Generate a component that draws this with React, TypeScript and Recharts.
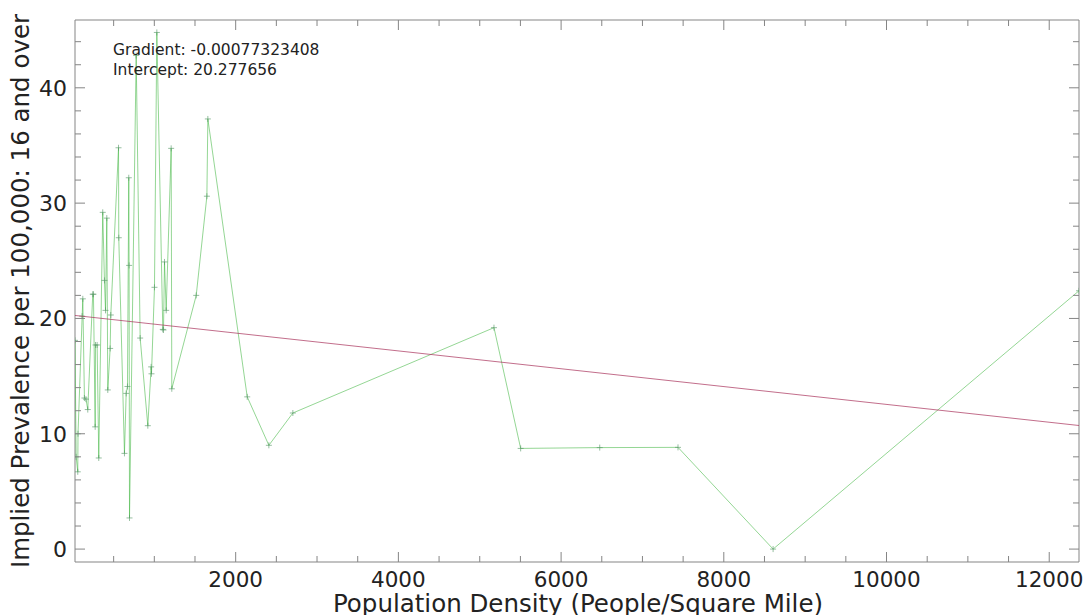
import React from 'react';
import { ScatterChart, Scatter, XAxis, YAxis, ReferenceArea } from 'recharts';

// population density (people / sq mile), sorted
const DENSITY = [
    25, 39, 59, 62, 113, 121, 141, 160, 182, 243, 252, 273, 277, 297, 317, 366, 387, 400, 416, 428,
    457, 465, 560, 563, 633, 654, 670, 686, 690, 695, 777, 826, 920, 961, 965, 1002, 1031, 1104,
    1113, 1125, 1146, 1207, 1215, 1515, 1646, 1658, 2142, 2408, 2703, 5175, 5503, 6475, 7437, 8606,
    12366,
];
// implied prevalence per 100,000
const PREVALENCE = [
    18.1, 8.0, 6.7, 10.0, 20.2, 21.7, 13.1, 13.0, 12.1, 22.1, 22.1, 10.6, 17.7, 17.7, 7.9, 29.2,
    23.3, 20.7, 28.7, 13.8, 17.4, 20.3, 34.8, 27.0, 8.3, 13.5, 14.1, 32.2, 24.6, 2.7, 42.8, 18.3,
    10.7, 15.8, 15.2, 22.7, 44.8, 19.05, 19.0, 24.9, 20.7, 34.75, 13.9, 22.0, 30.6, 37.3, 13.2, 9.0,
    11.8, 19.2, 8.73, 8.8, 8.82, 0, 22.4,
];

const GRADIENT = -0.00077323408;
const INTERCEPT = 20.277656;
const TREND_X = [25, 12366];

const X_TICKS = [500, 1000, 1500, 2000, 2500, 3000, 3500, 4000, 4500, 5000, 5500, 6000, 6500, 7000, 7500, 8000, 8500, 9000, 9500, 10000, 10500, 11000, 11500, 12000];
const Y_TICKS = [0, 2, 4, 6, 8, 10, 12, 14, 16, 18, 20, 22, 24, 26, 28, 30, 32, 34, 36, 38, 40, 42, 44];

const points = DENSITY.map((x, i) => ({ x, y: PREVALENCE[i] }));
const trend = TREND_X.map(x => ({ x, y: INTERCEPT + GRADIENT * x }));

const FONT = '"DejaVu Sans", sans-serif';
const AXIS = '#858585';
const PLOT_LEFT = 75;
const PLOT_RIGHT = 1079;
const PLOT_TOP = 20;
const PLOT_BOTTOM = 562;

const XTick = (props: any) => {
    const { x, payload } = props;
    const v = payload.value;
    const major = v % 2000 === 0;
    const len = major ? 10 : 6;
    return (
        <g>
            <line x1={x} y1={PLOT_BOTTOM} x2={x} y2={PLOT_BOTTOM - len} stroke={AXIS} />
            <line x1={x} y1={PLOT_TOP} x2={x} y2={PLOT_TOP + len} stroke={AXIS} />
            {major && (
                <text x={x} y={587} textAnchor="middle" fontSize={21.5} fontFamily={FONT} fill="#222">
                    {v}
                </text>
            )}
        </g>
    );
};

const YTick = (props: any) => {
    const { y, payload } = props;
    const v = payload.value;
    const major = v % 10 === 0;
    const len = major ? 10 : 6;
    return (
        <g>
            <line x1={PLOT_LEFT} y1={y} x2={PLOT_LEFT + len} y2={y} stroke={AXIS} />
            <line x1={PLOT_RIGHT} y1={y} x2={PLOT_RIGHT - len} y2={y} stroke={AXIS} />
            {major && (
                <text x={67} y={y + 8} textAnchor="end" fontSize={22} fontFamily={FONT} fill="#222">
                    {v}
                </text>
            )}
        </g>
    );
};

const Cross = (props: any) => {
    const { cx, cy } = props;
    return (
        <g stroke="#5a9a6a" strokeWidth={0.8} strokeOpacity={0.8}>
            <line x1={cx - 3} y1={cy} x2={cx + 3} y2={cy} />
            <line x1={cx} y1={cy - 3} x2={cx} y2={cy + 3} />
        </g>
    );
};

const NoDot = () => <g />;

export default function App() {
    return (
        <div style={{ position: 'absolute', left: 0, top: 0, width: 1088, height: 615, background: '#fff' }}>
            <ScatterChart width={1088} height={615} margin={{ top: PLOT_TOP, right: 1088 - PLOT_RIGHT, left: 0, bottom: 0 }}>
                <XAxis
                    type="number"
                    dataKey="x"
                    domain={[25, 12366]}
                    allowDataOverflow
                    ticks={X_TICKS}
                    interval={0}
                    tick={<XTick />}
                    tickLine={false}
                    axisLine={false}
                    height={615 - PLOT_BOTTOM}
                    label={{
                        content: () => (
                            <text x={578} y={612} textAnchor="middle" fontSize={24.5} fontFamily={FONT} fill="#222">
                                Population Density (People/Square Mile)
                            </text>
                        ),
                    }}
                />
                <YAxis
                    type="number"
                    dataKey="y"
                    domain={[-1.12, 45.88]}
                    allowDataOverflow
                    ticks={Y_TICKS}
                    interval={0}
                    tick={<YTick />}
                    tickLine={false}
                    axisLine={false}
                    width={PLOT_LEFT}
                    label={{
                        content: () => (
                            <text
                                x={29}
                                y={291}
                                transform="rotate(-90 29 291)"
                                textAnchor="middle"
                                fontSize={24.5}
                                fontFamily={FONT}
                                fill="#222"
                            >
                                Implied Prevalence per 100,000: 16 and over
                            </text>
                        ),
                    }}
                />
                <ReferenceArea x1={25} x2={12366} y1={-1.12} y2={45.88} fill="none" stroke={AXIS} strokeWidth={1} ifOverflow="extendDomain" />
                <Scatter
                    data={points}
                    line={{ stroke: '#3cb43c', strokeWidth: 1, strokeOpacity: 0.55 }}
                    shape={<Cross />}
                    isAnimationActive={false}
                />
                <Scatter
                    data={trend}
                    line={{ stroke: '#a8305a', strokeWidth: 1, strokeOpacity: 0.7 }}
                    shape={<NoDot />}
                    isAnimationActive={false}
                />
            </ScatterChart>
            <div style={{ position: 'absolute', left: 113, top: 40, fontFamily: FONT, fontSize: 15.5, color: '#222', lineHeight: '20px' }}>
                <div>Gradient: -0.00077323408</div>
                <div>Intercept: 20.277656</div>
            </div>
        </div>
    );
}
